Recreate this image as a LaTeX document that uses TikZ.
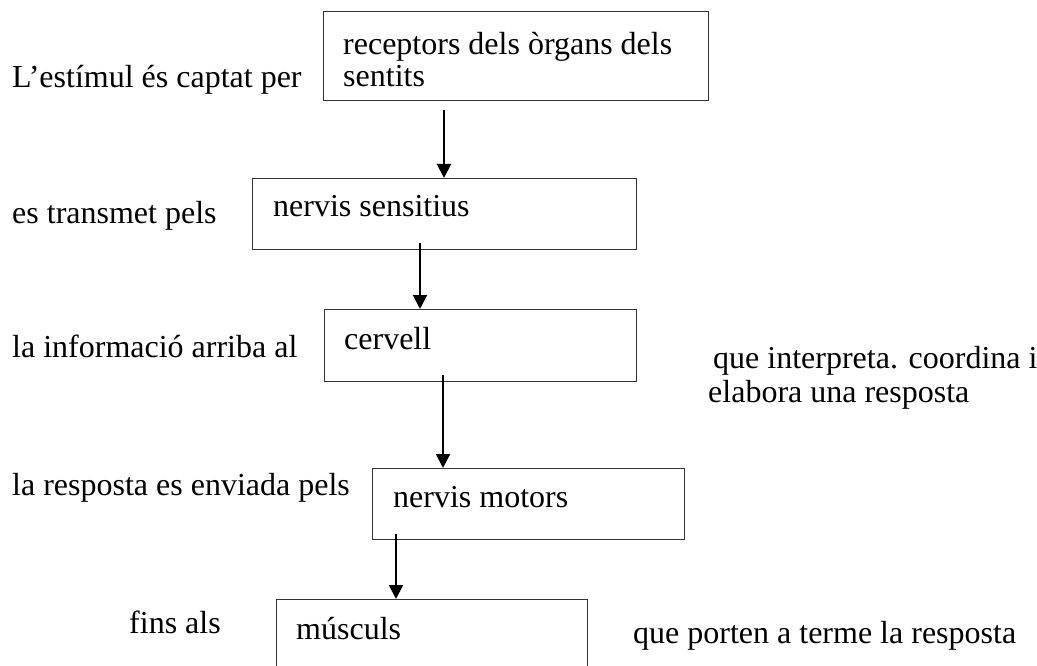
\documentclass[tikz,border=0pt]{standalone}
\usepackage{fontspec}
\setmainfont{Liberation Serif}
\usetikzlibrary{arrows.meta,calc}
\begin{document}
\begin{tikzpicture}[x=1pt,y=-1pt,
  boxst/.style={draw=black!80,line width=1.3pt,minimum width=#1,anchor=north west,inner sep=0pt},
  txt/.style={anchor=base west,inner sep=0pt,font=\fontsize{32}{32}\selectfont},
  conn/.style={line width=2pt,-{Triangle[length=14pt,width=14pt]}}]
\useasboundingbox (0,0) rectangle (1037,666);
\clip (0,0) rectangle (1037,666);
% boxes
\node[boxst=385pt,minimum height=89pt] (b1) at (323,11) {};
\node[boxst=384pt,minimum height=71pt] (b2) at (252,178) {};
\node[boxst=312pt,minimum height=72pt] (b3) at (324,309) {};
\node[boxst=312pt,minimum height=71pt] (b4) at (372,468) {};
\node[boxst=311pt,minimum height=90pt] (b5) at (276,599) {};
% box texts
\node[txt] (t1a) at (343,55) {receptors dels òrgans dels};
\node[txt] (t1b) at (343,87) {sentits};
\node[txt] (t2) at (273,217) {nervis sensitius};
\node[txt] (t3) at (344,349) {cervell};
\node[txt] (t4) at (393,507) {nervis motors};
\node[txt] (t5) at (296,639) {músculs};
% side texts
\node[txt] (l1) at (12,88) {L’estímul és captat per};
\node[txt] (l2) at (12,223) {es transmet pels};
\node[txt] (l3) at (12,357) {la informació arriba al};
\node[txt] (l4) at (12,495) {la resposta es enviada pels};
\node[txt] (l5) at (129,633) {fins als};
\node[txt] (r3a) at (713,368) {que interpreta. coordina i};
\node[txt] (r3b) at (708,402) {elabora una resposta};
\node[txt] (r5) at (633,643) {que porten a terme la resposta};
% connectors
\coordinate (s1) at (444,110);
\coordinate (s2) at (420,243);
\coordinate (s3) at (443,375);
\coordinate (s4) at (396,534);
\draw[conn] (s1) -- (s1 |- b2.north);
\draw[conn] (s2) -- (s2 |- b3.north);
\draw[conn] (s3) -- (s3 |- b4.north);
\draw[conn] (s4) -- (s4 |- b5.north);
\end{tikzpicture}
\end{document}
